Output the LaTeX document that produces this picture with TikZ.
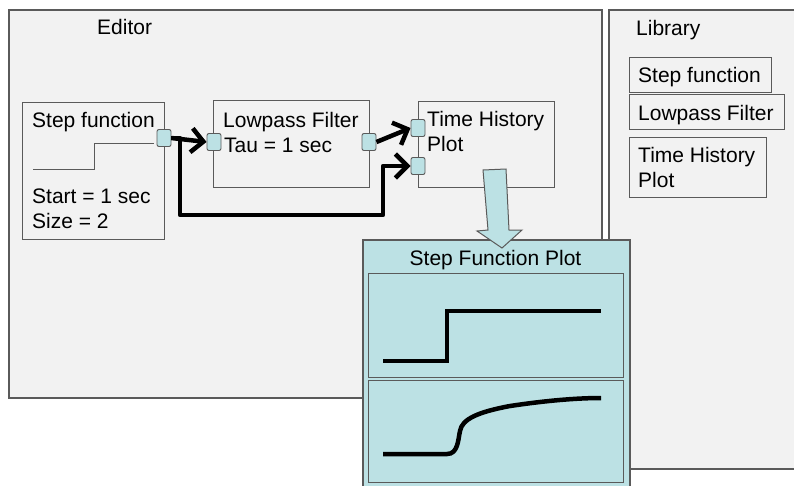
\documentclass[tikz,border=0pt]{standalone}
\usepackage{fontspec}
\setmainfont{Liberation Sans}
\usetikzlibrary{arrows.meta}
\definecolor{panelbg}{HTML}{F2F2F2}
\definecolor{aqua}{HTML}{BCE1E4}
\definecolor{edge}{HTML}{5A5A5A}

\begin{document}
\begin{tikzpicture}[x=1pt,y=-1pt,
  panel/.style={draw=edge, line width=1.6pt, fill=panelbg, rectangle, inner sep=0pt, anchor=north west},
  block/.style={draw=edge, line width=1.1pt, rectangle, inner sep=0pt, anchor=north west},
  port/.style={draw=edge, line width=0.9pt, fill=aqua, rounded corners=2pt,
               minimum width=14pt, minimum height=17pt, inner sep=0pt},
  lbl/.style={anchor=base west, inner sep=0pt, font=\fontsize{21}{25}\selectfont},
  conn/.style={line width=4.5pt, line join=round,
               -{Straight Barb[length=12pt,width=24pt,line join=miter]}},
  curve/.style={line width=4.5pt},
]
\useasboundingbox (0,0) rectangle (794,485);
\clip (0,0) rectangle (794,485);

% Editor and library panels
\node[panel, minimum width=593pt, minimum height=388pt] (editor) at (8,9) {};
\node[panel, minimum width=200pt, minimum height=459pt] (library) at (608,9) {};
\node[lbl] (editorlbl) at (97,34) {Editor};
\node[lbl] (librarylbl) at (636,35) {Library};

% Library entries
\node[block, minimum width=142pt, minimum height=35pt] (libstep) at (629,57) {};
\node[block, minimum width=155pt, minimum height=35pt] (liblp) at (629,94) {};
\node[block, minimum width=137pt, minimum height=60pt] (libth) at (629,137) {};
\node[lbl] (libsteplbl) at (638,82) {Step function};
\node[lbl] (liblplbl) at (638,120) {Lowpass Filter};
\node[lbl] (libthlbl) at (638,162) {Time History};
\node[lbl] (libthlbl2) at (638,187) {Plot};

% Step function block
\node[block, minimum width=142pt, minimum height=137pt] (step) at (22,102) {};
\node[lbl] (steplbl) at (32,127) {Step function};
\node[lbl] (steplbl2) at (32,203) {Start = 1 sec};
\node[lbl] (steplbl3) at (32,228) {Size = 2};
\draw[edge, line width=1pt] (33,169) -- (94,169) -- (94,143) -- (154,143);

% Lowpass filter block
\node[block, minimum width=156pt, minimum height=87pt] (lowpass) at (213,100) {};
\node[lbl] (lplbl) at (223,127) {Lowpass Filter};
\node[lbl] (lplbl2) at (224,152) {Tau = 1 sec};

% Time history plot block
\node[block, minimum width=136pt, minimum height=86pt] (thist) at (418,101) {};
\node[lbl] (thlbl) at (427,126) {Time History};
\node[lbl] (thlbl2) at (427,151) {Plot};

% Ports
\node[port] (sp) at (164,138) {};
\node[port] (lpin) at (214,142) {};
\node[port] (lpout) at (369,142) {};
\node[port] (thA) at (418,128) {};
\node[port] (thB) at (418,166) {};

% Connections
\coordinate (b1) at (180,215);
\coordinate (b2) at (383,215);
\draw[conn] (sp.east) -| (b1) -- (b2) |- (thB.west);
\draw[conn] (sp.east) -- (lpin.west);
\draw[conn] (lpout.east) -- (thA.west);

% Plot window
\node[panel, fill=aqua, minimum width=267pt, minimum height=260pt] (plotwin) at (362,239) {};
\node[anchor=base, inner sep=0pt, font=\fontsize{21}{25}\selectfont] (plottitle) at (495.5,265) {Step Function Plot};
\node[block, line width=1.3pt, minimum width=255pt, minimum height=104pt] (plotA) at (368,273) {};
\node[block, line width=1.3pt, minimum width=255pt, minimum height=102pt] (plotB) at (368,380) {};
\draw[curve] (383,361) -- (447,361) -- (447,311) -- (601,311);
\draw[curve] (383,454) -- (447,454)
  .. controls (458,454) and (458,440) .. (460,431)
  .. controls (462,419) and (478,412) .. (510,406)
  .. controls (550,400) and (580,398) .. (601,398);

% Arrow from the plot block to its window
\draw[edge, line width=1pt, fill=aqua] (483,170) -- (506,169) -- (509,230) -- (522,230)
  -- (502,248) -- (477,231) -- (488,230) -- cycle;
\end{tikzpicture}
\end{document}
